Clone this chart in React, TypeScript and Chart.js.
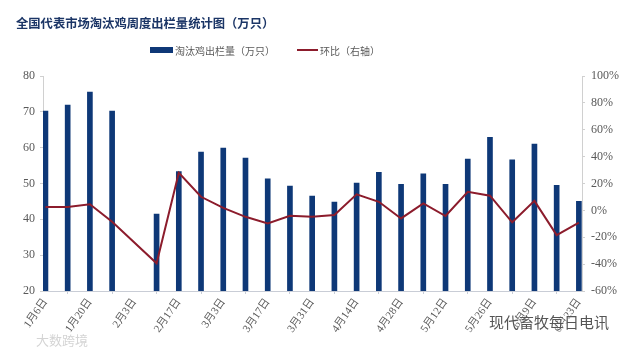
import React, { useEffect, useRef } from "react";
import { Chart, registerables } from "chart.js";

Chart.register(...registerables);

const categories = [
  "1月6日", "1月13日", "1月20日", "1月27日", "2月3日", "2月10日", "2月17日", "2月24日",
  "3月3日", "3月10日", "3月17日", "3月24日", "3月31日", "4月7日", "4月14日", "4月21日",
  "4月28日", "5月5日", "5月12日", "5月19日", "5月26日", "6月2日", "6月9日", "6月16日", "6月23日",
];
const volume: (number | null)[] = [
  70.2, 71.9, 75.5, 70.2, null, 41.5, 53.3, 58.8,
  59.9, 57.1, 51.3, 49.3, 46.5, 44.8, 50.1, 53.1,
  49.8, 52.7, 49.8, 56.8, 62.9, 56.6, 61.0, 49.5, 45.0,
];
const change: (number | null)[] = [
  2.6, 2.5, 4.6, -8.5, null, -39.4, 28.0, 10.1,
  1.9, -4.8, -9.7, -4.0, -4.8, -3.5, 11.9, 6.4,
  -6.0, 5.2, -4.2, 13.8, 10.9, -8.9, 7.1, -18.4, -9.2,
];
const shownLabelIdx = [0, 2, 4, 6, 8, 10, 12, 14, 16, 18, 20, 22, 24];
const leftTicks = [20, 30, 40, 50, 60, 70, 80];
const rightTicks = [-60, -40, -20, 0, 20, 40, 60, 80, 100];

const BAR = "#0e3877";
const LINE = "#8c1c2c";
const TXT = "#595959";
const AXIS = "#c9cdd6";

export default function App() {
  const ref = useRef<HTMLCanvasElement>(null);
  useEffect(() => {
    if (!ref.current) return;
    const tickFont = { family: "'Liberation Serif', 'Noto Sans CJK SC'", size: 12 };
    const chart = new Chart(ref.current, {
      type: "bar",
      data: {
        datasets: [
          {
            type: "line",
            label: "环比（右轴）",
            data: change.map((v, i) => ({ x: i, y: v })) as any,
            borderColor: LINE,
            backgroundColor: LINE,
            borderWidth: 2,
            pointRadius: 0,
            tension: 0,
            spanGaps: true,
            yAxisID: "y1",
            order: 0,
          },
          {
            type: "bar",
            label: "淘汰鸡出栏量（万只）",
            data: volume.map((v, i) => ({ x: i, y: v })) as any,
            backgroundColor: BAR,
            barThickness: 5,
            yAxisID: "y",
            order: 1,
          },
        ],
      },
      options: {
        animation: false,
        responsive: false,
        maintainAspectRatio: false,
        layout: { padding: { top: 76, left: 0, right: 0, bottom: 0 } },
        plugins: { legend: { display: false }, title: { display: false }, tooltip: { enabled: false } },
        scales: {
          x: {
            type: "linear",
            offset: false,
            min: -0.11,
            max: 24.14,
            afterBuildTicks: (s: any) => {
              s.ticks = shownLabelIdx.map((i) => ({ value: i }));
            },
            afterFit: (s: any) => {
              s.height = 61;
            },
            ticks: {
              autoSkip: false,
              minRotation: 55,
              maxRotation: 55,
              color: TXT,
              font: { family: "'Liberation Serif', 'Noto Sans CJK SC'", size: 11 },
              padding: 2,
              callback: (v: any) => categories[v] ?? "",
            },
            grid: { display: true, drawOnChartArea: false, drawTicks: true, tickLength: 3, color: AXIS },
            border: { display: true, color: AXIS, width: 1 },
          },
          y: {
            position: "left",
            min: 20,
            max: 80,
            afterBuildTicks: (s: any) => {
              s.ticks = leftTicks.map((v) => ({ value: v }));
            },
            afterFit: (s: any) => {
              s.width = 43;
            },
            ticks: { color: TXT, font: tickFont, padding: 5 },
            grid: { display: true, drawOnChartArea: false, drawTicks: true, tickLength: 3, color: "#d0d0d0" },
            border: { display: true, color: "#d0d0d0", width: 1 },
          },
          y1: {
            position: "right",
            min: -60,
            max: 100,
            afterBuildTicks: (s: any) => {
              s.ticks = rightTicks.map((v) => ({ value: v }));
            },
            afterFit: (s: any) => {
              s.width = 45;
            },
            ticks: { color: TXT, font: tickFont, padding: 6, callback: (v: any) => v + "%" },
            grid: { display: true, drawOnChartArea: false, drawTicks: true, tickLength: 3, color: "#d0d0d0" },
            border: { display: true, color: "#d0d0d0", width: 1 },
          },
        },
      },
    } as any);
    return () => chart.destroy();
  }, []);

  return (
    <div style={{ position: "fixed", left: 0, top: 0, width: 627, height: 352, background: "#fff", overflow: "hidden" }}>
      <canvas ref={ref} width={627} height={352} style={{ position: "absolute", left: 0, top: 0, width: 627, height: 352 }} />
      <div
        style={{
          position: "absolute", left: 16, top: 14, fontFamily: "'Noto Sans CJK SC', sans-serif",
          fontWeight: 700, fontSize: 12.3, color: "#1b3566", lineHeight: "18px", whiteSpace: "nowrap",
        }}
      >
        全国代表市场淘汰鸡周度出栏量统计图（万只）
      </div>
      <div
        style={{
          position: "absolute", left: 150, top: 42, height: 16, display: "flex", alignItems: "center",
          fontFamily: "'Noto Sans CJK SC', sans-serif", fontSize: 10, color: TXT, whiteSpace: "nowrap",
        }}
      >
        <span style={{ display: "inline-block", width: 23, height: 6, background: BAR, marginRight: 2 }} />
        <span>淘汰鸡出栏量（万只）</span>
        <span style={{ display: "inline-block", width: 21, height: 2, background: LINE, marginLeft: 22, marginRight: 2 }} />
        <span>环比（右轴）</span>
      </div>
      <div
        style={{
          position: "absolute", left: 36, top: 330, fontFamily: "'Noto Sans CJK SC', sans-serif",
          fontSize: 13, color: "#d4d4d4", whiteSpace: "nowrap",
        }}
      >
        大数跨境
      </div>
      <div
        style={{
          position: "absolute", left: 489, top: 311, fontFamily: "'Noto Sans CJK SC', sans-serif",
          fontSize: 15, color: "#555", whiteSpace: "nowrap", textShadow: "0 0 2px #fff, 0 0 2px #fff",
        }}
      >
        现代畜牧每日电讯
      </div>
    </div>
  );
}
